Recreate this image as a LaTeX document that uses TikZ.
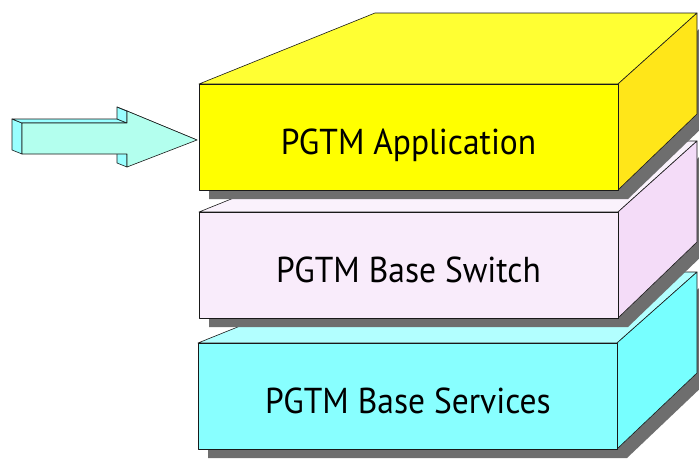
\documentclass[tikz,border=0pt]{standalone}
\usepackage{fontspec}
\setmainfont{PT Sans}

\definecolor{shadowgray}{HTML}{6E6E6E}
\definecolor{appfront}{HTML}{FFFF00}
\definecolor{apptop}{HTML}{FFFF33}
\definecolor{appside}{HTML}{FFE619}
\definecolor{swfront}{HTML}{F9ECFB}
\definecolor{swtop}{HTML}{FAF2FC}
\definecolor{swside}{HTML}{F4DCF8}
\definecolor{svfront}{HTML}{88FFFF}
\definecolor{svtop}{HTML}{B2FFFF}
\definecolor{svside}{HTML}{77FFFF}
\definecolor{arrowfront}{HTML}{B3FFEE}
\definecolor{arrowside}{HTML}{99FFFF}

% One slab of the stack: #1 left, #2 right, #3 top, #4 bottom of the front face,
% #5 front, #6 top, #7 side colour
\newcommand\stackslab[7]{%
  \fill[shadowgray] (#1+10,#3+9) -- (#2+10,#3+9) -- (697+10,#3-71+9)
     -- (697+10,#4-76+9) -- (#2+10,#4+9) -- (#1+10,#4+9) -- cycle;
  \filldraw[edge, fill=#6] (#1,#3) -- (#1+176,#3-71) -- (697,#3-71) -- (#2,#3) -- cycle;
  \filldraw[edge, fill=#7] (#2,#3) -- (697,#3-71) -- (697,#4-76) -- (#2,#4) -- cycle;
  \filldraw[edge, fill=#5] (#1,#3) rectangle (#2,#4);
}
% slightly condensed label text
\newcommand\slabtext[1]{\scalebox{0.93}[1]{#1}}

\begin{document}
\begin{tikzpicture}[x=1pt,y=-1pt,
  edge/.style={draw=black!90, line width=0.6pt, line join=round},
  layertext/.style={font=\fontsize{36}{40}\selectfont, inner sep=0pt, anchor=base}]
\useasboundingbox (0,0) rectangle (699,458);
\clip (0,0) rectangle (699,458);
\fill[white] (0,0) rectangle (699,458);

% the three layers, bottom first so each upper one overlaps the one below
\stackslab{198}{617}{343}{449}{svfront}{svtop}{svside}
\stackslab{199}{618}{212}{318}{swfront}{swtop}{swside}
\stackslab{199}{618}{84}{190}{appfront}{apptop}{appside}

\node[layertext] (app) at (408.5,154) {\slabtext{PGTM Application}};
\node[layertext] (switch) at (408.5,282) {\slabtext{PGTM Base Switch}};
\node[layertext] (services) at (408,413) {\slabtext{PGTM Base Services}};

% block arrow pointing at the application layer
\filldraw[edge, fill=arrowside] (12,119) -- (22,123) -- (22,154) -- (12,150) -- cycle;
\filldraw[edge, fill=arrowside] (12,119) -- (117,119) -- (127,123) -- (22,123) -- cycle;
\filldraw[edge, fill=arrowside] (117,107) -- (127,111) -- (127,123) -- (117,119) -- cycle;
\filldraw[edge, fill=arrowside] (117,150) -- (127,154) -- (127,167) -- (117,163) -- cycle;
\filldraw[edge, fill=arrowside] (117,107) -- (187,136) -- (197,140) -- (127,111) -- cycle;
\filldraw[edge, fill=arrowfront] (22,123) -- (127,123) -- (127,111) -- (197,140)
   -- (127,167) -- (127,154) -- (22,154) -- cycle;
\coordinate (tip) at (197,140);
\end{tikzpicture}
\end{document}
